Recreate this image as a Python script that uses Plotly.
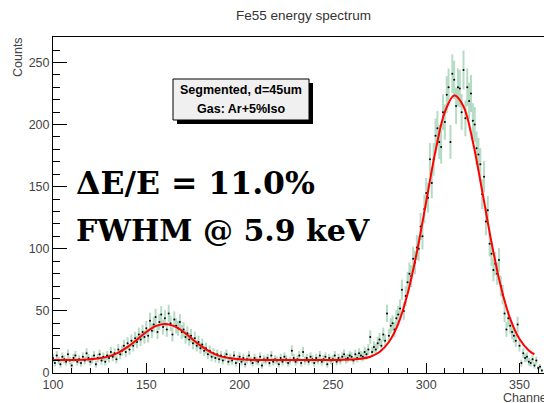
import plotly.graph_objects as go

# Histogram: 1-channel bins and counts
channels = list(range(100, 363))
counts = [
    12, 8, 14, 10, 7, 13, 11, 9, 15, 10,      # 100-109
    6, 12, 14, 9, 11, 8, 13, 10, 16, 12,      # 110-119
    9, 11, 14, 7, 12, 15, 10, 13, 9, 14,      # 120-129
    12, 17, 13, 16, 11, 19, 15, 18, 22, 17,   # 130-139
    24, 19, 26, 22, 28, 25, 31, 27, 33, 29,   # 140-149
    36, 30, 42, 34, 39, 45, 33, 41, 47, 37,   # 150-159
    44, 35, 48, 40, 31, 43, 38, 36, 41, 33,   # 160-169
    35, 29, 32, 27, 30, 24, 28, 22, 25, 20,   # 170-179
    23, 18, 20, 15, 18, 13, 16, 12, 15, 11,   # 180-189
    14, 10, 13, 15, 9, 12, 10, 14, 8, 11,     # 190-199
    13, 9, 12, 7, 11, 14, 10, 8, 12, 10,      # 200-209
    9, 13, 6, 11, 10, 12, 8, 14, 9, 11,       # 210-219
    10, 7, 12, 9, 13, 11, 8, 10, 18, 12,      # 220-229
    9, 11, 14, 8, 17, 10, 12, 9, 13, 11,      # 230-239
    8, 12, 10, 14, 9, 11, 13, 7, 12, 10,      # 240-249
    11, 14, 9, 12, 10, 13, 15, 11, 12, 14,    # 250-259
    13, 10, 15, 12, 16, 14, 13, 17, 15, 19,   # 260-269
    29, 17, 21, 19, 24, 27, 22, 31, 26, 48,   # 270-279
    30, 38, 40, 35, 44, 47, 52, 67, 50, 62,   # 280-289
    73, 80, 78, 92, 89, 101, 100, 118, 110, 132,   # 290-299
    145, 141, 172, 153, 172, 191, 197, 186, 182, 210,  # 300-309
    202, 224, 230, 186, 241, 236, 215, 230, 229, 210,  # 310-319
    244, 205, 230, 219, 225, 203, 200, 181, 176, 168,  # 320-329
    144, 158, 122, 131, 104, 96, 83, 88, 80, 91,   # 330-339
    70, 63, 48, 35, 44, 38, 33, 30, 26, 39,   # 340-349
    22, 8, 16, 12, 13, 9, 8, 11, 6, 10,       # 350-359
    4, 5, 2,                                  # 360-362
]
errors = [c ** 0.5 for c in counts]

# Fitted curve
fit_x = [100, 105, 110, 115, 120, 125, 130, 135, 140, 145, 150, 155, 160,
         165, 170, 175, 180, 185, 190, 195, 200, 205, 210, 220, 230, 240,
         250, 255, 260, 265, 270, 275, 280, 285, 290, 295, 300, 305, 310,
         315, 320, 325, 330, 335, 340, 345, 350, 355, 358]
fit_y = [10.5, 10.5, 10.5, 10.7, 11.0, 11.8, 13.4, 16.4, 21.0, 26.8, 33.0,
         37.7, 39.5, 37.7, 33.0, 26.8, 21.0, 16.4, 13.4, 11.8, 11.0, 10.7,
         10.5, 10.5, 10.5, 10.5, 10.5, 10.6, 10.8, 11.4, 13.1, 16.9, 25.0,
         39.6, 63.6, 97.3, 138.0, 178.8, 210.2, 223.5, 214.6, 186.2, 146.5,
         105.1, 69.6, 43.7, 27.3, 18.1, 15.0]

x_ticks = [100, 150, 200, 250, 300, 350]
y_ticks = [0, 50, 100, 150, 200, 250]

L, T, B, W, H = 53, 37, 30, 544, 403
pw, ph = W - L, H - T - B

def px(x):
    return (x - L) / pw

def py(y):
    return (H - B - y) / ph

fig = go.Figure()
fig.add_trace(go.Scatter(
    x=channels, y=counts, mode="markers",
    marker=dict(color="black", size=2),
    error_y=dict(type="data", array=errors, color="rgba(110,185,140,0.5)",
                 thickness=2, width=0),
    showlegend=False, hoverinfo="skip"))
fig.add_trace(go.Scatter(
    x=fit_x, y=fit_y, mode="lines", line=dict(color="#ff0000", width=2, shape="spline"),
    showlegend=False, hoverinfo="skip"))

axis_font = dict(family="Liberation Sans, Arial", size=12.5, color="#444")
fig.update_layout(
    width=W, height=H, margin=dict(l=L, r=0, t=T, b=B),
    paper_bgcolor="white", plot_bgcolor="white",
    font=dict(family="Liberation Sans, Arial"),
    xaxis=dict(range=[100, 100 + pw / 1.866], tickvals=x_ticks, ticks="inside",
               ticklen=10, tickwidth=1, tickcolor="black", showgrid=False,
               zeroline=False, showline=True, linecolor="black", linewidth=1,
               mirror=True, tickfont=axis_font,
               minor=dict(dtick=10, ticks="inside", ticklen=5, tickcolor="black")),
    yaxis=dict(range=[0, 270.5], tickvals=y_ticks, ticks="inside",
               ticklen=14, tickwidth=1, tickcolor="black", showgrid=False,
               zeroline=False, showline=True, linecolor="black", linewidth=1,
               tickfont=axis_font,
               minor=dict(dtick=10, ticks="inside", ticklen=7, tickcolor="black")),
)

# Stats-like box with shadow
bx0, bx1, by0, by1 = 173, 309, 79, 120
fig.add_shape(type="rect", xref="paper", yref="paper",
              x0=px(bx0 + 4), x1=px(bx1 + 4), y0=py(by1 + 4), y1=py(by0 + 4),
              fillcolor="black", line=dict(width=0))
fig.add_shape(type="rect", xref="paper", yref="paper",
              x0=px(bx0), x1=px(bx1), y0=py(by1), y1=py(by0),
              fillcolor="#f0f0f0", line=dict(color="black", width=1))

annots = [
    dict(text="<b>Segmented, d=45um</b>", x=px(241), y=py(90), size=12.5),
    dict(text="<b>Gas: Ar+5%Iso</b>", x=px(241), y=py(109), size=12.5),
]
for a in annots:
    fig.add_annotation(text=a["text"], x=a["x"], y=a["y"], xref="paper", yref="paper",
                       showarrow=False, xanchor="center", yanchor="middle",
                       font=dict(family="Liberation Sans, Arial", size=a["size"], color="black"))

fig.add_annotation(text="<b>ΔE/E = 11.0%</b>", x=px(74), y=py(182), xref="paper", yref="paper",
                   showarrow=False, xanchor="left", yanchor="middle",
                   font=dict(family="DejaVu Serif", size=31.5, color="black"))
fig.add_annotation(text="<b>FWHM @ 5.9 keV</b>", x=px(74), y=py(230), xref="paper", yref="paper",
                   showarrow=False, xanchor="left", yanchor="middle",
                   font=dict(family="DejaVu Serif", size=30, color="black"))

# Title and axis titles
fig.add_annotation(text="Fe55 energy spectrum", x=px(303), y=py(15), xref="paper", yref="paper",
                   showarrow=False, xanchor="center", yanchor="middle",
                   font=dict(family="Liberation Sans, Arial", size=13.5, color="#333"))
fig.add_annotation(text="Counts", x=px(18), y=py(57), xref="paper", yref="paper",
                   showarrow=False, xanchor="center", yanchor="middle", textangle=-90,
                   font=dict(family="Liberation Sans, Arial", size=12.5, color="#444"))
fig.add_annotation(text="Channel", x=px(501), y=py(398), xref="paper", yref="paper",
                   showarrow=False, xanchor="left", yanchor="middle",
                   font=dict(family="Liberation Sans, Arial", size=12.5, color="#444"))

fig.write_html("out.html")
